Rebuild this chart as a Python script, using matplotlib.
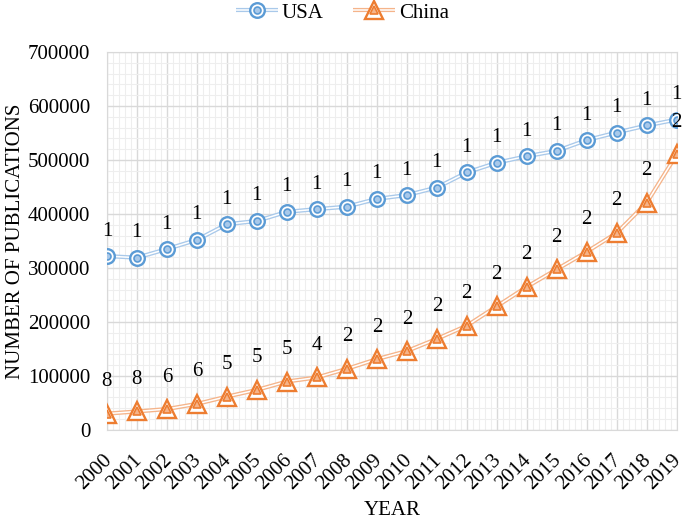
import matplotlib
matplotlib.use("Agg")
import matplotlib.pyplot as plt
from matplotlib.ticker import MultipleLocator
from matplotlib.transforms import ScaledTranslation

years = list(range(2000, 2020))
usa = [322000, 319000, 335000, 352000, 381000, 387000, 404000, 409000, 413500, 428000,
       435000, 449000, 477000, 495000, 507000, 517000, 537000, 551000, 564000, 575000]
china = [30000, 34000, 38500, 48000, 61500, 74000, 89500, 97000, 113000, 131000,
         146000, 168500, 193000, 229000, 265000, 297500, 330000, 365000, 421000, 510500]
usa_labels = ["1"] * 20
china_labels = ["8", "8", "6", "6", "5", "5", "5", "4"] + ["2"] * 12

plt.rcParams["font.family"] = ["Liberation Serif", "DejaVu Serif"]

fig = plt.figure(figsize=(6.85, 5.21), dpi=100)
ax = fig.add_axes([0.156, 0.175, 0.832, 0.725])

blue, blue_lt = "#5b9bd5", "#a9c9ea"
orange, orange_lt = "#ed7d31", "#f5b48a"


def draw_series(y, color, light, marker, big, small, labels, offset):
    a = ax.plot(years, y, color=light, lw=3.0, zorder=3, solid_capstyle="butt")[0]
    b = ax.plot(years, y, color="white", lw=1.1, zorder=3)[0]
    c = ax.plot(years, y, ls="none", marker=marker, ms=big, mfc="white",
                mec=color, mew=1.7, zorder=4)[0]
    d = ax.plot(years, y, ls="none", marker=marker, ms=small, mfc=light,
                mec=color, mew=1.2, zorder=5)[0]
    for xv, yv, t in zip(years, y, labels):
        ax.annotate(t, (xv, yv), xytext=(0, offset), textcoords="offset points",
                    ha="center", va="center", fontsize=15, zorder=6)
    return (a, b, c, d)


h_usa = draw_series(usa, blue, blue_lt, "o", 10.5, 5, usa_labels, 18)
h_china = draw_series(china, orange, orange_lt, "^", 13, 5.5, china_labels, 23)

ax.set_xlim(2000, 2019)
ax.set_ylim(0, 700000)
ax.xaxis.set_major_locator(MultipleLocator(1))
ax.xaxis.set_minor_locator(MultipleLocator(0.2))
ax.yaxis.set_major_locator(MultipleLocator(100000))
ax.yaxis.set_minor_locator(MultipleLocator(20000))
ax.grid(which="major", color="#d9d9d9", lw=1.0, zorder=1)
ax.grid(which="minor", color="#eeeeee", lw=0.8, zorder=0)
ax.set_axisbelow(True)
ax.tick_params(which="both", length=0, labelsize=15)
ax.tick_params(axis="x", pad=20)
ax.tick_params(axis="y", pad=12)
# nudge the rotated year labels a little to the right, like the original
shift = ScaledTranslation(2 / 100, 0, fig.dpi_scale_trans)
for lbl in ax.get_xticklabels():
    lbl.set_rotation(45)
    lbl.set_ha("right")
    lbl.set_va("center")
    lbl.set_rotation_mode("anchor")
    lbl.set_transform(lbl.get_transform() + shift)
for s in ax.spines.values():
    s.set_color("#d9d9d9")

ax.set_xlabel("YEAR", fontsize=15, labelpad=5)
ax.set_ylabel("NUMBER OF PUBLICATIONS", fontsize=15, labelpad=2)

fig.legend([h_usa, h_china], ["USA", "China"], loc="upper center",
           bbox_to_anchor=(0.5, 1.03), ncol=2, frameon=False, fontsize=15,
           handlelength=2.0, columnspacing=1.4, handletextpad=0.2)

fig.savefig("out.png", dpi=100)
